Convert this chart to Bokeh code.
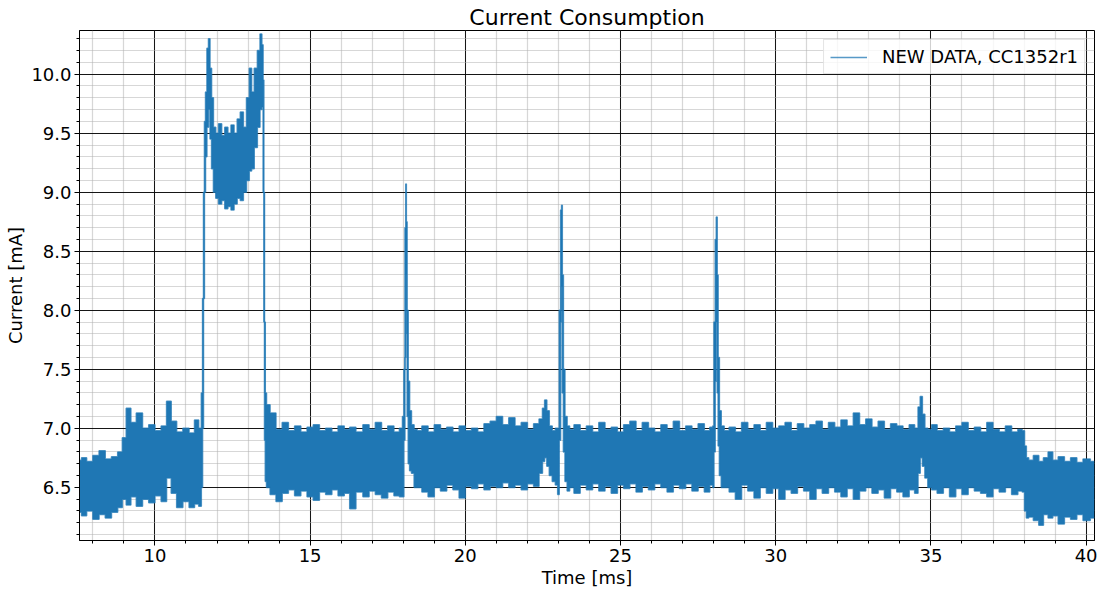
from bokeh.plotting import figure
from bokeh.models import (ColumnDataSource, Range1d, SingleIntervalTicker,
                          NumeralTickFormatter, Legend, LegendItem)
from bokeh.embed import file_html
from bokeh.resources import INLINE

# Supply current of the CC1352r1 radio, reduced to a min/max envelope per time bin.
# Each row of the three lists below is one part of the capture.
t_ms = [
    7.57, 7.7, 7.9, 8.1, 8.3, 8.5, 8.7, 8.9,                                   # idle, low level
    9.0, 9.15, 9.3, 9.5, 9.7, 9.9, 10.1, 10.3, 10.45, 10.6, 10.8, 11.0, 11.2, 11.35, 11.47,  # wake-up
    11.52, 11.55, 11.58, 11.61, 11.65, 11.70, 11.75, 11.80, 11.85, 11.92, 12.0, 12.1, 12.2,
    12.3, 12.4, 12.5, 12.6, 12.7, 12.8, 12.9, 13.0, 13.08, 13.15, 13.25, 13.35, 13.42, 13.47,
    13.50, 13.52, 13.54, 13.57,                                                 # RF burst
    13.62, 13.8, 14.0, 14.2, 14.4, 14.6, 14.8, 15.0, 15.2, 15.4, 15.6, 15.8, 16.0, 16.2, 16.35,
    16.6, 16.8, 17.0, 17.2, 17.4, 17.6, 17.8, 17.95,
    18.00, 18.04, 18.07, 18.09, 18.11, 18.14, 18.18, 18.23, 18.30, 18.40,      # pulse 1
    18.5, 18.7, 18.9, 19.1, 19.3, 19.5, 19.7, 19.9, 20.1, 20.3, 20.5, 20.7, 20.9, 21.1, 21.3,
    21.5, 21.7, 21.9, 22.1, 22.3,
    22.45, 22.52, 22.59, 22.66, 22.75, 22.85, 22.95,
    23.00, 23.05, 23.09, 23.11, 23.14, 23.18, 23.24, 23.32,                    # pulse 2
    23.4, 23.6, 23.8, 24.0, 24.2, 24.4, 24.6, 24.8, 25.0, 25.2, 25.4, 25.6, 25.8, 26.0, 26.2,
    26.4, 26.6, 26.8, 27.0, 27.2, 27.4, 27.6, 27.8, 27.95,
    27.99, 28.03, 28.07, 28.10, 28.13, 28.16, 28.21, 28.28,                    # pulse 3
    28.4, 28.6, 28.8, 29.0, 29.2, 29.4, 29.6, 29.8, 30.0, 30.2, 30.4, 30.6, 30.8, 31.0, 31.2,
    31.4, 31.6, 31.8, 32.0, 32.2, 32.4, 32.6, 32.8, 33.0, 33.2, 33.4, 33.6, 33.8, 34.0, 34.2, 34.4,
    34.55, 34.62, 34.69, 34.76, 34.85, 34.95,
    35.1, 35.3, 35.5, 35.7, 35.9, 36.1, 36.3, 36.5, 36.7, 36.9, 37.1, 37.3, 37.5, 37.7, 37.9, 37.98,
    38.05, 38.1, 38.2, 38.4, 38.55, 38.7, 38.85, 39.0, 39.2, 39.4, 39.6, 39.8, 40.0, 40.27,  # back to idle
]

i_max_ma = [
    6.73, 6.75, 6.72, 6.77, 6.81, 6.74, 6.76, 6.80,
    6.92, 7.17, 7.05, 7.13, 7.00, 7.03, 6.98, 7.02, 7.23, 7.06, 6.97, 7.00, 6.96, 7.07, 7.00,
    7.30, 8.10, 9.00, 9.60, 9.85, 10.22, 10.30, 10.05, 9.80, 9.55, 9.50, 9.58, 9.48,
    9.55, 9.50, 9.57, 9.50, 9.62, 9.68, 9.55, 9.80, 10.05, 9.85, 10.05, 10.20, 10.34, 10.25,
    9.95, 9.00, 7.90, 7.30,
    7.20, 7.13, 6.99, 7.05, 6.98, 7.02, 6.97, 7.01, 7.03, 6.98, 7.00, 6.97, 7.02, 6.99, 7.01,
    6.97, 7.03, 6.99, 7.05, 6.98, 7.02, 6.97, 7.00,
    7.10, 7.50, 8.70, 9.07, 8.75, 8.00, 7.40, 7.15, 7.03, 6.99,
    6.98, 7.02, 6.97, 7.03, 6.99, 7.01, 6.97, 7.02, 6.98, 7.00, 6.97, 7.04, 7.06, 7.10, 7.03,
    7.09, 7.02, 7.05, 6.99, 7.04,
    7.08, 7.17, 7.24, 7.15, 7.02, 6.98, 7.00,
    7.00, 8.00, 8.85, 8.89, 8.30, 7.50, 7.10, 7.02,
    6.99, 7.03, 6.98, 7.02, 6.97, 7.05, 6.99, 7.01, 6.97, 7.03, 7.06, 6.98, 7.05, 7.00, 6.97,
    7.03, 6.99, 7.06, 6.98, 7.02, 6.99, 7.04, 6.98, 7.01,
    7.02, 7.90, 8.60, 8.79, 8.30, 7.60, 7.15, 7.02,
    6.98, 7.01, 6.97, 7.05, 6.99, 7.03, 6.98, 7.05, 7.00, 7.02, 7.05, 6.98, 7.04, 7.00, 7.03,
    7.06, 6.99, 7.05, 7.01, 7.07, 7.02, 7.13, 7.03, 7.08, 7.01, 7.06, 6.99, 7.04, 7.02, 6.99, 7.03,
    7.00, 7.18, 7.27, 7.12, 7.00, 6.99,
    7.03, 6.98, 7.00, 6.97, 7.02, 7.05, 6.98, 7.01, 6.97, 7.05, 6.99, 6.97, 7.02, 6.97, 6.99, 6.98,
    6.85, 6.75, 6.73, 6.77, 6.72, 6.75, 6.80, 6.73, 6.76, 6.72, 6.75, 6.71, 6.74, 6.72,
]

i_min_ma = [
    6.29, 6.26, 6.30, 6.23, 6.27, 6.24, 6.29, 6.33,
    6.40, 6.35, 6.42, 6.34, 6.40, 6.37, 6.43, 6.38, 6.58, 6.45, 6.33, 6.38, 6.33, 6.36, 6.34,
    6.50, 7.00, 8.10, 9.00, 9.30, 9.55, 9.70, 9.45, 9.20, 9.00, 8.95, 8.90, 8.93,
    8.86, 8.88, 8.85, 8.90, 8.95, 8.93, 9.00, 9.10, 9.18, 9.20, 9.38, 9.55, 9.70, 9.72,
    9.00, 7.90, 6.90, 6.55,
    6.50, 6.44, 6.38, 6.45, 6.48, 6.43, 6.47, 6.42, 6.39, 6.46, 6.44, 6.48, 6.43, 6.45, 6.32,
    6.46, 6.42, 6.47, 6.44, 6.41, 6.46, 6.43, 6.42,
    6.42, 6.90, 7.60, 8.30, 7.80, 7.10, 6.70, 6.64, 6.62, 6.50,
    6.50, 6.46, 6.42, 6.50, 6.47, 6.52, 6.48, 6.41, 6.51, 6.49, 6.53, 6.48, 6.51, 6.50, 6.54,
    6.50, 6.52, 6.48, 6.53, 6.51,
    6.62, 6.72, 6.75, 6.68, 6.60, 6.55, 6.52,
    6.44, 6.90, 7.90, 8.20, 7.30, 6.80, 6.55, 6.47,
    6.50, 6.45, 6.52, 6.48, 6.53, 6.47, 6.51, 6.45, 6.52, 6.49, 6.53, 6.46, 6.51, 6.48, 6.53,
    6.50, 6.46, 6.52, 6.49, 6.53, 6.47, 6.51, 6.46, 6.52,
    6.50, 6.80, 7.40, 7.90, 7.30, 6.85, 6.60, 6.50,
    6.50, 6.46, 6.40, 6.52, 6.47, 6.41, 6.50, 6.45, 6.49, 6.40, 6.48, 6.45, 6.51, 6.47, 6.40,
    6.49, 6.45, 6.50, 6.46, 6.42, 6.49, 6.40, 6.47, 6.50, 6.45, 6.48, 6.41, 6.49, 6.46, 6.42, 6.48,
    6.45, 6.62, 6.75, 6.68, 6.58, 6.50,
    6.48, 6.45, 6.50, 6.42, 6.49, 6.44, 6.50, 6.47, 6.45, 6.42, 6.49, 6.46, 6.50, 6.44, 6.47, 6.46,
    6.30, 6.24, 6.25, 6.22, 6.18, 6.27, 6.24, 6.26, 6.19, 6.25, 6.23, 6.27, 6.22, 6.24,
]

series_label = "NEW DATA, CC1352r1"

FONT = "DejaVu Sans"
BLUE = "#1f77b4"

src = ColumnDataSource(dict(t=t_ms, hi=i_max_ma, lo=i_min_ma))

p = figure(width=1105, height=590, output_backend="svg", toolbar_location=None,
           x_range=Range1d(7.57, 40.27), y_range=Range1d(6.05, 10.37),
           min_border_left=79, min_border_right=11, min_border_top=30,
           min_border_bottom=50, background_fill_color="white",
           border_fill_color="white")

p.title.text = "Current Consumption"
p.title.align = "center"
p.title.text_font = FONT
p.title.text_font_size = "22px"
p.title.text_font_style = "normal"
p.title.text_color = "black"
p.title.standoff = 2

# axes and ticks
p.xaxis.ticker = SingleIntervalTicker(interval=5, num_minor_ticks=5)
p.yaxis.ticker = SingleIntervalTicker(interval=0.5, num_minor_ticks=5)
p.yaxis.formatter = NumeralTickFormatter(format="0.0")
p.xaxis.axis_label = "Time [ms]"
p.yaxis.axis_label = "Current [mA]"
for ax in (p.xaxis, p.yaxis):
    ax.axis_label_text_font = FONT
    ax.axis_label_text_font_size = "18px"
    ax.axis_label_text_font_style = "normal"
    ax.axis_label_text_color = "black"
    ax.axis_label_standoff = 2
    ax.major_label_text_font = FONT
    ax.major_label_text_font_size = "18px"
    ax.major_label_text_color = "black"
    ax.major_label_standoff = 3
    ax.axis_line_color = "black"
    ax.major_tick_line_color = "black"
    ax.minor_tick_line_color = "black"
    ax.major_tick_out = 5
    ax.major_tick_in = 0
    ax.minor_tick_out = 3
    ax.minor_tick_in = 0
p.outline_line_color = "black"
p.outline_line_width = 1

# major grid in black, minor grid in light grey
p.grid.grid_line_color = "black"
p.grid.grid_line_width = 0.9
p.grid.minor_grid_line_color = "#b0b0b0"
p.grid.minor_grid_line_alpha = 0.5
p.grid.minor_grid_line_width = 1.2

# current trace: stepped band between the per-bin extremes, edges stroked
p.varea_step(x="t", y1="lo", y2="hi", source=src, fill_color=BLUE,
             step_mode="center")
top_edge = p.step("t", "hi", source=src, mode="center", line_color=BLUE,
                  line_width=1.5, line_alpha=0.75)
p.step("t", "lo", source=src, mode="center", line_color=BLUE,
       line_width=1.5, line_alpha=0.75)

legend = Legend(items=[LegendItem(label=series_label, renderers=[top_edge])],
                location="top_right", label_text_font=FONT,
                label_text_font_size="18px", label_text_color="black",
                glyph_width=37, glyph_height=20, label_standoff=15,
                padding=6, margin=9, spacing=0,
                border_line_color="#cccccc", border_line_width=1,
                background_fill_color="white", background_fill_alpha=0.8)
p.add_layout(legend)

open("out.html", "w").write(file_html(p, INLINE))
